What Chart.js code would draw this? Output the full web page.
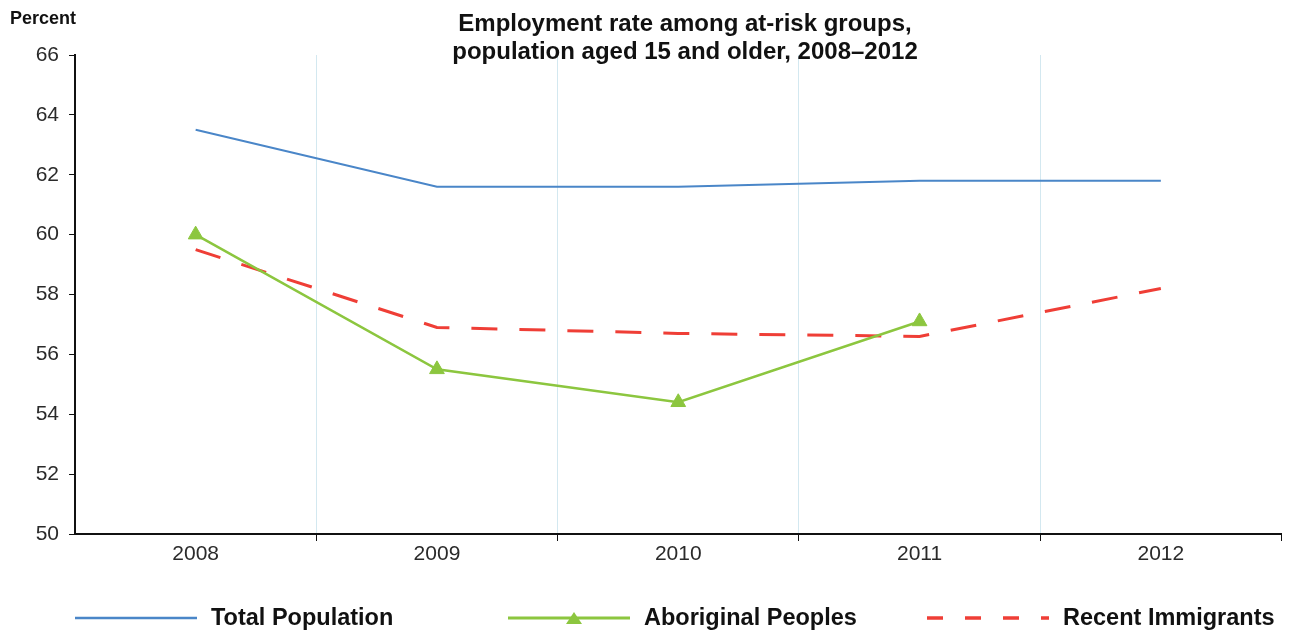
<!DOCTYPE html>
<html>
<head>
<meta charset="utf-8">
<script src="https://cdn.jsdelivr.net/npm/chart.js@4.4.1/dist/chart.umd.min.js"></script>
<style>
  html, body { margin: 0; padding: 0; background: #fff; }
  #wrap { position: relative; width: 1291px; height: 631px; font-family: 'Liberation Sans', Arial, sans-serif; }
  #title { position: absolute; left: 335px; width: 700px; top: 9px; text-align: center; font-weight: bold; font-size: 24px; line-height: 28px; color: #111; white-space: nowrap; }
  #unit { position: absolute; left: 10px; top: 8px; font-weight: bold; font-size: 18px; color: #111; }
  #legend { position: absolute; left: 0; top: 600px; width: 1291px; height: 34px; }
  .legend-item { position: absolute; top: 0; display: flex; align-items: center; white-space: nowrap; }
  .legend-item span { font-weight: bold; font-size: 23.5px; color: #111; margin-left: 14px; }
</style>
</head>
<body>
<div id="wrap">
  <canvas id="employmentChart" width="1291" height="631"></canvas>
  <div id="unit">Percent</div>
  <div id="title">Employment rate among at-risk groups,<br>population aged 15 and older, 2008–2012</div>
  <div id="legend"></div>
</div>
<script>
// Données
const years = ['2008', '2009', '2010', '2011', '2012'];
const totalPopulation = [63.5, 61.6, 61.6, 61.8, 61.8];
const aboriginalPeoples = [60.0, 55.5, 54.4, 57.1, null];
const recentImmigrants = [59.5, 56.9, 56.7, 56.6, 58.2];
const yTicks = [50, 52, 54, 56, 58, 60, 62, 64, 66];

const colors = {
  total: '#4a86c8',
  aboriginal: '#8cc63f',
  immigrants: '#ef3e36',
  grid: '#d3e8f0'
};

const tickFont = { size: 21, family: "'Liberation Sans', Arial, sans-serif" };

const ctx = document.getElementById('employmentChart');
const chart = new Chart(ctx, {
  type: 'line',
  data: {
    labels: years,
    datasets: [
      {
        label: 'Total Population',
        data: totalPopulation,
        borderColor: colors.total,
        borderWidth: 2,
        pointRadius: 0,
        tension: 0
      },
      {
        label: 'Aboriginal Peoples',
        data: aboriginalPeoples,
        borderColor: colors.aboriginal,
        backgroundColor: colors.aboriginal,
        borderWidth: 2.5,
        pointStyle: 'triangle',
        pointRadius: 8.5,
        pointBorderWidth: 1,
        tension: 0
      },
      {
        label: 'Recent Immigrants',
        data: recentImmigrants,
        borderColor: colors.immigrants,
        borderWidth: 3,
        borderDash: [26, 22],
        pointRadius: 0,
        tension: 0
      }
    ]
  },
  options: {
    responsive: false,
    animation: false,
    layout: {
      padding: { top: 55, right: 9, bottom: 37, left: 0 }
    },
    plugins: {
      legend: { display: false },
      title: { display: false },
      tooltip: { enabled: false }
    },
    scales: {
      x: {
        offset: true,
        afterFit: function (scale) { scale.height = 60; },
        grid: {
          offset: true,
          drawOnChartArea: true,
          color: function (c) {
            return (c.index === undefined || c.index === 0) ? 'rgba(0,0,0,0)' : colors.grid;
          },
          tickColor: function (c) {
            return c.index === 0 ? 'rgba(0,0,0,0)' : '#111';
          },
          tickLength: 7,
          lineWidth: 1
        },
        border: { display: true, color: '#111', width: 2 },
        ticks: {
          color: '#2a2a2a',
          padding: 1,
          font: tickFont
        }
      },
      y: {
        min: 50,
        max: 66,
        afterFit: function (scale) { scale.width = 75; },
        afterBuildTicks: function (scale) {
          scale.ticks = yTicks.map(v => ({ value: v }));
        },
        grid: {
          drawOnChartArea: false,
          drawTicks: true,
          tickLength: 6,
          tickColor: '#111'
        },
        border: { display: true, color: '#111', width: 2 },
        ticks: {
          color: '#2a2a2a',
          padding: 10,
          font: tickFont
        }
      }
    }
  }
});

// Légende personnalisée (échantillons de trait)
function createLegend(containerId, chart) {
  const container = document.getElementById(containerId);
  const lefts = [75, 508, 927];
  chart.data.datasets.forEach((dataset, index) => {
    const item = document.createElement('div');
    item.className = 'legend-item';
    item.style.left = lefts[index] + 'px';
    const dash = dataset.borderDash ? `stroke-dasharray="16 22" ` : '';
    const marker = dataset.pointStyle === 'triangle'
      ? `<polygon points="66,12 74,24 58,24" fill="${dataset.borderColor}"/>` : '';
    item.innerHTML = `
      <svg width="122" height="34">
        <line x1="0" y1="18" x2="122" y2="18" stroke="${dataset.borderColor}" stroke-width="${dataset.borderWidth + 0.5}" ${dash}/>
        ${marker}
      </svg>
      <span>${dataset.label}</span>
    `;
    container.appendChild(item);
  });
}
createLegend('legend', chart);
</script>
</body>
</html>
